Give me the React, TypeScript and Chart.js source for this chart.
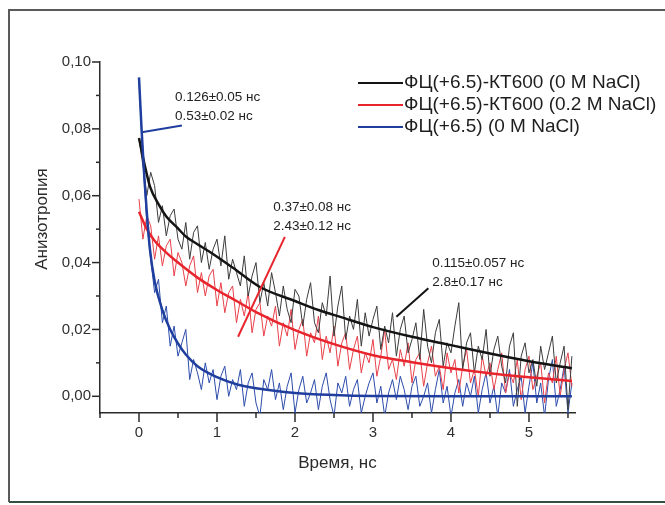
import { useEffect, useRef } from 'react';
import { Chart, registerables } from 'chart.js';

Chart.register(...registerables);

const FONT = '"Liberation Sans", Arial, Helvetica, sans-serif';

// Time grid of the measured (noisy) traces, ns
const timeNs = [
  0, 0.05, 0.1, 0.15, 0.2, 0.25, 0.3, 0.35, 0.4, 0.45, 0.5, 0.55, 0.6, 0.65, 0.7, 0.75, 0.8, 0.85, 0.9, 0.95,
  1.0, 1.05, 1.1, 1.15, 1.2, 1.25, 1.3, 1.35, 1.4, 1.45, 1.5, 1.55, 1.6, 1.65, 1.7, 1.75, 1.8, 1.85, 1.9, 1.95,
  2.0, 2.05, 2.1, 2.15, 2.2, 2.25, 2.3, 2.35, 2.4, 2.45, 2.5, 2.55, 2.6, 2.65, 2.7, 2.75, 2.8, 2.85, 2.9, 2.95,
  3.0, 3.05, 3.1, 3.15, 3.2, 3.25, 3.3, 3.35, 3.4, 3.45, 3.5, 3.55, 3.6, 3.65, 3.7, 3.75, 3.8, 3.85, 3.9, 3.95,
  4.0, 4.05, 4.1, 4.15, 4.2, 4.25, 4.3, 4.35, 4.4, 4.45, 4.5, 4.55, 4.6, 4.65, 4.7, 4.75, 4.8, 4.85, 4.9, 4.95,
  5.0, 5.05, 5.1, 5.15, 5.2, 5.25, 5.3, 5.35, 5.4, 5.45, 5.5, 5.55,
];

// ФЦ(+6.5)-КТ600 (0 M NaCl) measured anisotropy
const blackMeasured = [
  0.077, 0.069, 0.060, 0.067, 0.063, 0.052, 0.057, 0.048, 0.054, 0.056, 0.047, 0.044, 0.052, 0.041, 0.049, 0.051, 0.040, 0.046, 0.038, 0.044,
  0.047, 0.039, 0.048, 0.035, 0.041, 0.037, 0.033, 0.042, 0.030, 0.036, 0.040, 0.028, 0.034, 0.027, 0.037, 0.031, 0.024, 0.033, 0.026, 0.022,
  0.032, 0.030, 0.021, 0.029, 0.034, 0.022, 0.019, 0.028, 0.024, 0.036, 0.018, 0.027, 0.033, 0.017, 0.024, 0.020, 0.029, 0.015, 0.025, 0.018,
  0.023, 0.027, 0.014, 0.021, 0.016, 0.025, 0.012, 0.020, 0.024, 0.013, 0.017, 0.022, 0.011, 0.026, 0.015, 0.010, 0.019, 0.023, 0.009, 0.016,
  0.013, 0.021, 0.028, 0.008, 0.016, 0.019, 0.007, 0.015, 0.011, 0.020, 0.006, 0.014, 0.018, 0.009, 0.004, 0.015, 0.019, -0.003, 0.012, 0.016,
  0.007, 0.011, 0.003, 0.015, 0.008, 0.013, 0.018, 0.004, 0.010, 0.015, -0.004, 0.012,
];

// ФЦ(+6.5)-КТ600 (0.2 M NaCl) measured anisotropy
const redMeasured = [
  0.059, 0.047, 0.054, 0.051, 0.041, 0.048, 0.039, 0.045, 0.047, 0.036, 0.043, 0.040, 0.033, 0.039, 0.042, 0.031, 0.037, 0.030, 0.036, 0.038,
  0.027, 0.034, 0.025, 0.031, 0.033, 0.022, 0.029, 0.024, 0.031, 0.019, 0.026, 0.028, 0.018, 0.024, 0.021, 0.027, 0.015, 0.022, 0.018, 0.026,
  0.014, 0.020, 0.023, 0.012, 0.019, 0.016, 0.024, 0.011, 0.018, 0.013, 0.021, 0.009, 0.016, 0.019, 0.008, 0.014, 0.018, 0.007, 0.013, 0.010,
  0.017, 0.006, 0.012, 0.020, 0.008, 0.011, 0.005, 0.014, 0.009, 0.016, 0.004, 0.011, 0.013, 0.003, 0.010, 0.015, 0.006, 0.009, 0.002, 0.013,
  0.007, 0.011, 0.001, 0.009, 0.014, 0.004, 0.008, 0.000, 0.012, 0.006, 0.010, 0.002, 0.008, 0.013, 0.001, 0.007, 0.004, 0.011, -0.001, 0.008,
  0.012, 0.002, 0.006, 0.010, -0.002, 0.007, 0.004, 0.012, 0.000, 0.008, 0.013, 0.003,
];

// ФЦ(+6.5) (0 M NaCl) measured anisotropy
const blueMeasured = [
  0.094, 0.071, 0.052, 0.041, 0.031, 0.035, 0.022, 0.027, 0.015, 0.021, 0.012, 0.016, 0.020, 0.005, 0.011, 0.007, 0.002, 0.010, 0.004, 0.008,
  -0.001, 0.006, 0.009, 0.000, 0.005, 0.002, 0.008, -0.003, 0.004, 0.007, -0.002, -0.006, 0.005, 0.002, 0.008, -0.001, 0.004, -0.004, 0.003, 0.007,
  -0.005, 0.002, 0.006, -0.002, 0.001, 0.005, -0.004, 0.003, 0.007, -0.001, -0.006, 0.004, 0.001, 0.006, -0.003, 0.002, 0.005, -0.005, 0.000, 0.004,
  0.007, -0.002, 0.003, -0.006, 0.001, 0.005, -0.001, 0.006, 0.002, -0.004, 0.003, 0.006, -0.003, 0.000, 0.004, -0.005, 0.002, 0.008, -0.002, 0.003,
  -0.006, 0.001, 0.005, -0.003, 0.004, 0.000, 0.006, -0.005, 0.002, 0.007, -0.002, 0.003, -0.006, 0.004, 0.001, 0.008, -0.003, 0.002, 0.006, -0.005,
  0.003, 0.010, -0.002, 0.004, -0.006, 0.005, 0.011, -0.003, 0.002, 0.009, -0.005, 0.004,
];

// Fitted decay curves
const blackFitTime = [0, 0.07, 0.14, 0.25, 0.35, 0.5, 0.6, 0.75, 0.9, 1.2, 1.55, 2.0, 2.3, 2.6, 3.0, 3.5, 4.0, 4.5, 5.0, 5.55];
const blackFitValue = [0.0773, 0.0695, 0.0628, 0.0575, 0.0538, 0.0502, 0.0478, 0.0455, 0.0433, 0.0385, 0.0327, 0.0285, 0.0258, 0.0236, 0.0207, 0.0178, 0.0153, 0.0128, 0.0105, 0.0084];

const redFitTime = [0, 0.1, 0.2, 0.35, 0.5, 0.75, 1.0, 1.25, 1.5, 2.0, 2.5, 3.0, 3.5, 4.0, 4.5, 5.0, 5.55];
const redFitValue = [0.0552, 0.050, 0.0465, 0.043, 0.040, 0.0355, 0.0318, 0.0285, 0.0252, 0.0198, 0.0156, 0.0123, 0.0102, 0.0084, 0.0069, 0.0057, 0.0046];

const blueFitTime = [0, 0.035, 0.07, 0.1, 0.14, 0.2, 0.3, 0.4, 0.5, 0.6, 0.75, 1.0, 1.25, 1.5, 2.0, 2.5, 3.0, 4.0, 5.0, 5.55];
const blueFitValue = [0.0954, 0.079, 0.065, 0.055, 0.044, 0.0345, 0.0258, 0.020, 0.0158, 0.0125, 0.009, 0.0057, 0.0036, 0.0024, 0.001, 0.0004, 0.0001, 0, 0, 0];

const seriesNames = ['ФЦ(+6.5)-КТ600 (0 M NaCl)', 'ФЦ(+6.5)-КТ600 (0.2 M NaCl)', 'ФЦ(+6.5) (0 M NaCl)'];
const seriesColors = ['#141414', '#e8252d', '#1f3e9e'];
const measuredColors = ['#3c3c3c', '#e8414a', '#2c4cab'];

// Fit result annotations
const annotationTexts = [
  ['0.126±0.05 нс', '0.53±0.02 нс'],
  ['0.37±0.08 нс', '2.43±0.12 нс'],
  ['0.115±0.057 нс', '2.8±0.17 нс'],
];
const annotationTextAt = [
  [0.46, 0.0894],
  [1.72, 0.0564],
  [3.76, 0.0399],
];
const annotationLines = [
  [0.035, 0.079, 0.55, 0.081],
  [1.87, 0.0477, 1.27, 0.0178],
  [3.3, 0.0238, 3.71, 0.0323],
];
const annotationColors = ['#1f3e9e', '#e8252d', '#141414'];

const xTitle = 'Время, нс';
const yTitle = 'Анизотропия';

export default function App() {
  const ref = useRef<HTMLCanvasElement>(null);

  useEffect(() => {
    const canvas = ref.current;
    if (!canvas) return;
    const toXY = (xs: number[], ys: number[]) => xs.map((x, i) => ({ x, y: ys[i] }));

    const overlay = {
      id: 'overlay',
      afterDraw(chart: any) {
        const { ctx, chartArea } = chart;
        const xs = chart.scales.x;
        const ys = chart.scales.y;
        ctx.save();

        // frame around the figure
        ctx.lineWidth = 2;
        ctx.strokeStyle = '#5a5a5a';
        ctx.beginPath();
        ctx.moveTo(9, 502);
        ctx.lineTo(9, 10);
        ctx.lineTo(665, 10);
        ctx.stroke();
        ctx.strokeStyle = '#35503f';
        ctx.beginPath();
        ctx.moveTo(9, 502);
        ctx.lineTo(665, 502);
        ctx.stroke();

        // ticks
        ctx.strokeStyle = '#2b2b2b';
        ctx.lineWidth = 1.5;
        xs.ticks.forEach((t: any) => {
          const px = xs.getPixelForValue(t.value);
          const len = t.label !== '' ? 9 : 5;
          ctx.beginPath();
          ctx.moveTo(px, chartArea.bottom);
          ctx.lineTo(px, chartArea.bottom + len);
          ctx.stroke();
        });
        ys.ticks.forEach((t: any) => {
          const py = ys.getPixelForValue(t.value);
          const len = t.label !== '' ? 8 : 4;
          ctx.beginPath();
          ctx.moveTo(chartArea.left, py);
          ctx.lineTo(chartArea.left - len, py);
          ctx.stroke();
        });

        // axis titles
        ctx.fillStyle = '#2a2a2a';
        ctx.font = `17px ${FONT}`;
        ctx.textAlign = 'center';
        ctx.textBaseline = 'middle';
        ctx.fillText(xTitle, (chartArea.left + chartArea.right) / 2, 463);
        ctx.save();
        ctx.translate(42, 219);
        ctx.rotate(-Math.PI / 2);
        ctx.fillText(yTitle, 0, 0);
        ctx.restore();

        // legend
        ctx.font = `19px ${FONT}`;
        ctx.textAlign = 'left';
        seriesNames.forEach((name, i) => {
          const yy = 83 + i * 22;
          ctx.strokeStyle = seriesColors[i];
          ctx.lineWidth = 2;
          ctx.beginPath();
          ctx.moveTo(358, yy);
          ctx.lineTo(403, yy);
          ctx.stroke();
          ctx.fillStyle = '#1e1e1e';
          ctx.fillText(name, 404, yy);
        });

        // fit annotations
        annotationLines.forEach((l, i) => {
          ctx.strokeStyle = annotationColors[i];
          ctx.lineWidth = 2;
          ctx.beginPath();
          ctx.moveTo(xs.getPixelForValue(l[0]), ys.getPixelForValue(l[1]));
          ctx.lineTo(xs.getPixelForValue(l[2]), ys.getPixelForValue(l[3]));
          ctx.stroke();
        });
        ctx.font = `13.5px ${FONT}`;
        ctx.fillStyle = '#222';
        annotationTexts.forEach((lines, i) => {
          const px = xs.getPixelForValue(annotationTextAt[i][0]);
          const py = ys.getPixelForValue(annotationTextAt[i][1]);
          lines.forEach((s, k) => ctx.fillText(s, px, py + k * 19));
        });

        ctx.restore();
      },
    };

    const fit = (label: string, xs: number[], ys: number[], color: string) => ({
      label,
      data: toXY(xs, ys),
      borderColor: color,
      borderWidth: 2.5,
      pointRadius: 0,
      tension: 0.4,
      cubicInterpolationMode: 'monotone' as const,
      fill: false,
    });
    const measured = (label: string, ys: number[], color: string) => ({
      label,
      data: toXY(timeNs, ys),
      borderColor: color,
      borderWidth: 1,
      pointRadius: 0,
      tension: 0,
      fill: false,
    });

    const chart = new Chart(canvas, {
      type: 'line',
      data: {
        datasets: [
          fit(seriesNames[2] + ' fit', blueFitTime, blueFitValue, seriesColors[2]),
          fit(seriesNames[1] + ' fit', redFitTime, redFitValue, seriesColors[1]),
          fit(seriesNames[0] + ' fit', blackFitTime, blackFitValue, seriesColors[0]),
          measured(seriesNames[0], blackMeasured, measuredColors[0]),
          measured(seriesNames[1], redMeasured, measuredColors[1]),
          measured(seriesNames[2], blueMeasured, measuredColors[2]),
        ],
      },
      options: {
        responsive: false,
        animation: false,
        devicePixelRatio: 1,
        layout: { padding: { left: 0, top: 62, right: 90, bottom: 0 } },
        plugins: { legend: { display: false }, tooltip: { enabled: false } },
        scales: {
          x: {
            type: 'linear',
            min: -0.5,
            max: 5.59,
            afterFit: (s: any) => {
              s.height = 92;
            },
            grid: { display: false, drawTicks: false },
            border: { display: true, color: '#2b2b2b', width: 1.5 },
            ticks: {
              stepSize: 0.5,
              includeBounds: false,
              autoSkip: false,
              maxRotation: 0,
              padding: 11,
              color: '#2f2f2f',
              font: { family: FONT, size: 15 },
              callback: (v: any) => {
                const n = Number(v);
                return Math.abs(n - Math.round(n)) < 1e-6 ? String(Math.round(n)) : '';
              },
            },
          },
          y: {
            type: 'linear',
            min: -0.005,
            max: 0.1,
            afterFit: (s: any) => {
              s.width = 100;
            },
            grid: { display: false, drawTicks: false },
            border: { display: true, color: '#2b2b2b', width: 1.5 },
            ticks: {
              stepSize: 0.01,
              includeBounds: false,
              autoSkip: false,
              padding: 9,
              color: '#2f2f2f',
              font: { family: FONT, size: 15 },
              callback: (v: any) => {
                const k = Math.round(Number(v) * 100);
                return k % 2 === 0 ? (k / 100).toFixed(2).replace('.', ',') : '';
              },
            },
          },
        },
      },
      plugins: [overlay],
    });

    return () => chart.destroy();
  }, []);

  return (
    <canvas
      ref={ref}
      width={665}
      height={505}
      style={{ position: 'fixed', left: 0, top: 0, width: 665, height: 505, background: '#fff' }}
    />
  );
}
